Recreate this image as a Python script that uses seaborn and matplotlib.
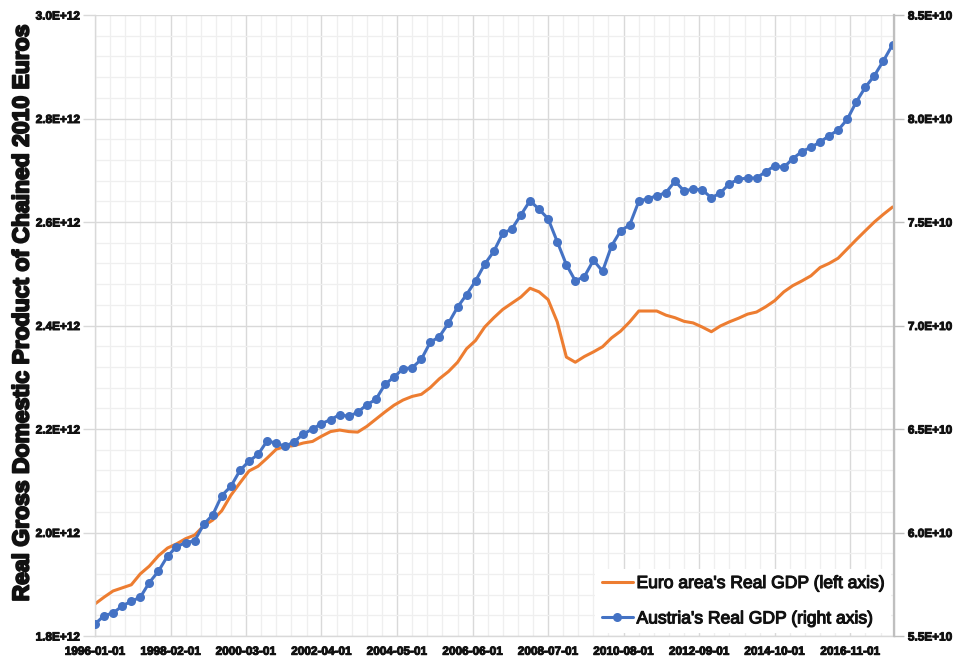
import matplotlib
matplotlib.use('Agg')
import matplotlib.pyplot as plt
import matplotlib.patheffects as pe
from matplotlib.ticker import FuncFormatter, MultipleLocator, FixedLocator
from matplotlib.lines import Line2D
import matplotlib.dates as mdates
import seaborn as sns
import pandas as pd

# ---------------- data (quarterly, 1996Q1 - 2018Q1) ----------------
quarters = pd.date_range('1996-01-01', periods=89, freq='QS')

# Euro area real GDP, trillions of chained 2010 euros (left axis)
euro_area_gdp_tn = [
    1.862, 1.875, 1.887, 1.893, 1.899, 1.920, 1.935, 1.955, 1.970, 1.978,
    1.988, 1.995, 2.013, 2.024, 2.042, 2.072, 2.096, 2.119, 2.128, 2.144,
    2.161, 2.166, 2.168, 2.173, 2.176, 2.186, 2.195, 2.198, 2.195, 2.194,
    2.205, 2.219, 2.233, 2.246, 2.256, 2.263, 2.267, 2.280, 2.297, 2.311,
    2.329, 2.355, 2.371, 2.397, 2.415, 2.431, 2.443, 2.455, 2.472, 2.465,
    2.450, 2.407, 2.339, 2.329, 2.340, 2.349, 2.359, 2.376, 2.389, 2.407,
    2.428, 2.428, 2.428, 2.420, 2.415, 2.408, 2.405, 2.397, 2.388, 2.399,
    2.407, 2.414, 2.422, 2.426, 2.436, 2.448, 2.465, 2.477, 2.486, 2.496,
    2.512, 2.520, 2.530, 2.548, 2.566, 2.583, 2.600, 2.615, 2.629,
]

# Austria real GDP, in units of 1E+10 chained 2010 euros (right axis)
austria_gdp_1e10 = [
    5.558, 5.598, 5.611, 5.645, 5.668, 5.687, 5.758, 5.813, 5.886, 5.931,
    5.951, 5.960, 6.040, 6.085, 6.178, 6.223, 6.300, 6.345, 6.377, 6.443,
    6.431, 6.416, 6.439, 6.476, 6.500, 6.526, 6.545, 6.569, 6.561, 6.581,
    6.617, 6.643, 6.716, 6.751, 6.791, 6.796, 6.837, 6.919, 6.946, 7.011,
    7.089, 7.149, 7.215, 7.296, 7.358, 7.445, 7.466, 7.534, 7.603, 7.561,
    7.516, 7.405, 7.294, 7.216, 7.236, 7.315, 7.262, 7.384, 7.457, 7.486,
    7.600, 7.613, 7.626, 7.642, 7.697, 7.650, 7.659, 7.655, 7.617, 7.640,
    7.685, 7.706, 7.713, 7.712, 7.743, 7.771, 7.764, 7.806, 7.840, 7.861,
    7.886, 7.917, 7.944, 7.996, 8.081, 8.151, 8.207, 8.279, 8.357,
]

x_tick_dates = pd.date_range('1996-01-01', '2018-01-01', freq='25MS')
x_minor_dates = pd.date_range('1996-01-01', '2018-01-01', freq='5MS')

y_label = 'Real Gross Domestic Product of Chained 2010 Euros'
euro_label = "Euro area's Real GDP (left axis)"
austria_label = "Austria's Real GDP (right axis)"

df = pd.DataFrame({
    'date': quarters,
    'euro': [v * 1e12 for v in euro_area_gdp_tn],
    'austria': [v * 1e10 for v in austria_gdp_1e10],
})

# ---------------- style ----------------
sns.set_theme(style='white')
plt.rcParams['font.family'] = ['Liberation Sans Narrow', 'Liberation Sans', 'DejaVu Sans']

ORANGE = '#ED7D31'
BLUE = '#4472C4'
TXT = '#111111'

fig = plt.figure(figsize=(9.56, 6.57), dpi=100)
ax = fig.add_axes([95 / 956, 21 / 657, 799 / 956, 621 / 657])
ax2 = ax.twinx()

sns.lineplot(data=df, x='date', y='euro', ax=ax, color=ORANGE, lw=2.2, legend=False)
sns.lineplot(data=df, x='date', y='austria', ax=ax2, color=BLUE, lw=2.2,
             marker='o', markersize=6.5, markeredgewidth=0, legend=False)

ax.set_xlim(pd.Timestamp('1996-01-01'), pd.Timestamp('2018-01-15'))
ax.set_ylim(1.8e12, 3.0e12)
ax2.set_ylim(5.5e10, 8.5e10)

ax.xaxis.set_major_locator(FixedLocator(mdates.date2num(x_tick_dates)))
ax.xaxis.set_minor_locator(FixedLocator(mdates.date2num(x_minor_dates)))
ax.xaxis.set_major_formatter(FuncFormatter(lambda v, p: mdates.num2date(v).strftime('%Y-%m-%d')))

ax.yaxis.set_major_locator(MultipleLocator(0.2e12))
ax.yaxis.set_minor_locator(MultipleLocator(0.04e12))
ax.yaxis.set_major_formatter(FuncFormatter(lambda v, p: f'{v / 1e12:.1f}E+12'))
ax2.yaxis.set_major_locator(MultipleLocator(0.5e10))
ax2.yaxis.set_major_formatter(FuncFormatter(lambda v, p: f'{v / 1e10:.1f}E+10'))

ax.set_axisbelow(True)
ax.grid(which='major', color='#d9d9d9', lw=1.0)
ax.grid(which='minor', color='#efefef', lw=0.9)
ax2.grid(False)

ax.spines['top'].set_visible(False)
for s in ['left', 'bottom', 'right']:
    ax.spines[s].set_color('#d9d9d9')
    ax.spines[s].set_linewidth(1.0)
for s in ['left', 'top', 'bottom']:
    ax2.spines[s].set_visible(False)
ax2.spines['right'].set_color('#bfbfbf')
ax2.spines['right'].set_linewidth(1.6)

ax.tick_params(axis='y', which='major', direction='out', length=9, width=1,
               color='#d9d9d9', labelsize=8.5, pad=2)
ax.tick_params(axis='y', which='minor', length=0)
ax.tick_params(axis='x', which='both', direction='out', length=5, width=1,
               color='#d9d9d9', labelsize=8.5, pad=2)
ax2.tick_params(axis='y', which='major', direction='out', length=7, width=1,
                color='#bfbfbf', labelsize=8.5, pad=3)

bold_small = [pe.withStroke(linewidth=0.7, foreground=TXT)]
for lab in ax.get_xticklabels() + ax.get_yticklabels() + ax2.get_yticklabels():
    lab.set_fontweight('bold')
    lab.set_color(TXT)
    lab.set_path_effects(bold_small)

ax.set_xlabel('')
ax.set_ylabel('')
ax2.set_ylabel('')

fig.text(22 / 956, 1 - 314 / 657, y_label, rotation=90, ha='center', va='center',
         fontsize=16.5, fontweight='bold', color=TXT,
         path_effects=[pe.withStroke(linewidth=1.4, foreground=TXT)])

handles = [
    Line2D([], [], color=ORANGE, lw=2.2),
    Line2D([], [], color=BLUE, lw=2.2, marker='o', markersize=6.5, markeredgewidth=0),
]
leg = ax2.legend(handles, [euro_label, austria_label], loc='lower right',
                 bbox_to_anchor=(1.0, 0.0), frameon=True, facecolor='white',
                 edgecolor='none', framealpha=1, fancybox=False, fontsize=12.6,
                 handlelength=1.8, handletextpad=0.2, labelspacing=1.15,
                 borderpad=0.4, borderaxespad=0.15)
for t in leg.get_texts():
    t.set_color(TXT)
    t.set_path_effects([pe.withStroke(linewidth=0.8, foreground=TXT)])

fig.savefig('out.png', dpi=100)
